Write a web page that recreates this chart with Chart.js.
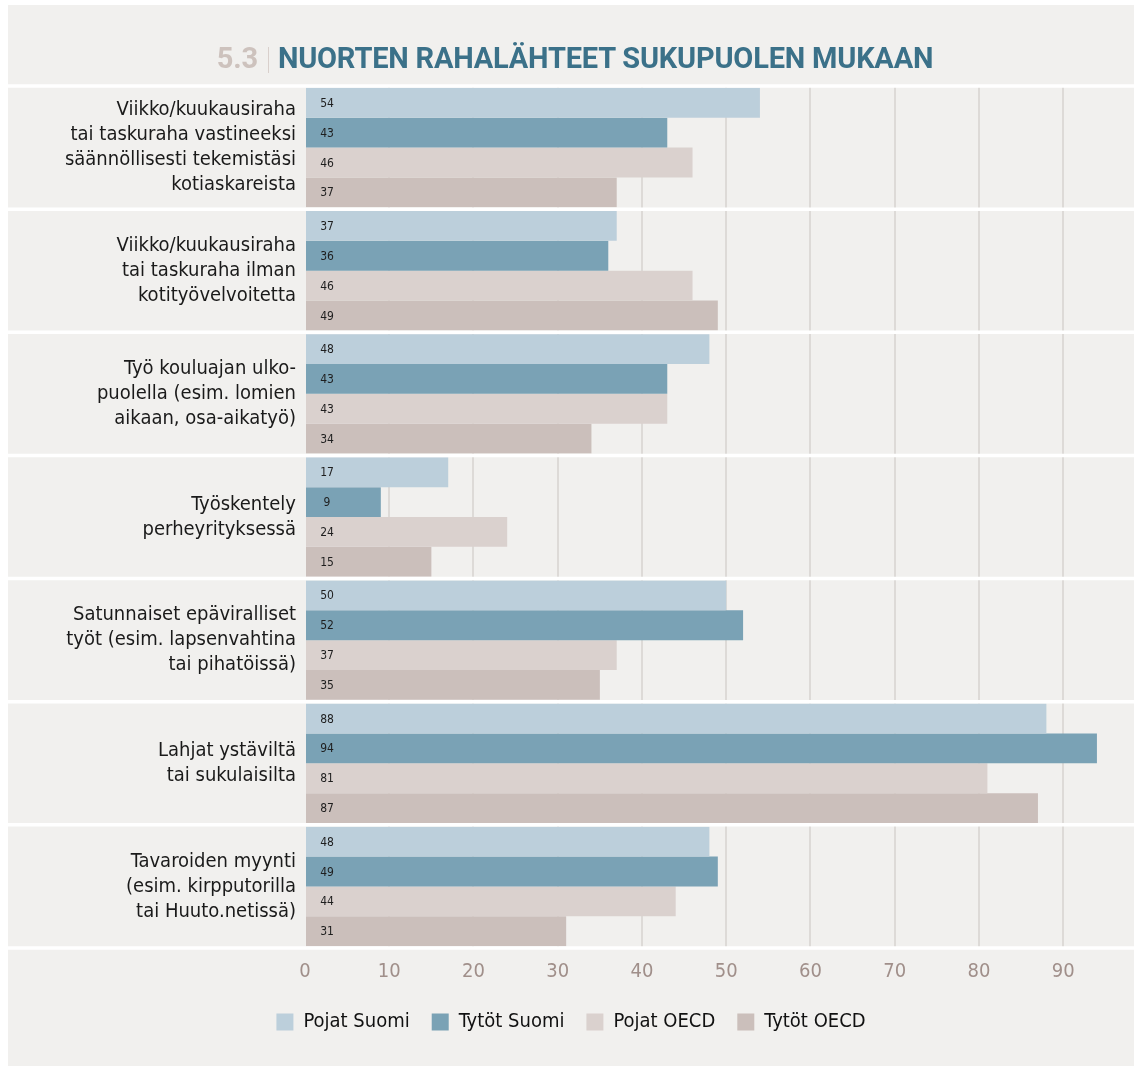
<!DOCTYPE html>
<html>
<head>
<meta charset="utf-8">
<script src="https://cdn.jsdelivr.net/npm/chart.js@4"></script>
<style>
	html, body { margin: 0; padding: 0; background: #ffffff; }
	#wrap { position: relative; width: 1134px; height: 1066px; }
	#title {
		position: absolute; left: 0; top: 43px; width: 1150px; text-align: center;
		font-family: Roboto, "Liberation Sans", sans-serif; font-weight: 700; font-size: 29px;
		line-height: 30px; color: #3b7189; white-space: nowrap; letter-spacing: -0.2px;
	}
	#title .num { color: #cdc2bd; }
	#title .bar { display: inline-block; width: 0; height: 26px; border-left: 1px solid #d9d0cc; margin: 0 9px 0 10px; vertical-align: -5px; }
</style>
</head>
<body>
<div id="wrap">
	<canvas id="myChart" width="1134" height="1066"></canvas>
	<div id="title"><span class="num">5.3</span><span class="bar"></span>NUORTEN RAHALÄHTEET SUKUPUOLEN MUKAAN</div>
</div>
<script>
var FONT = '"DejaVu Sans Condensed", "Liberation Sans Narrow", sans-serif';

// The data for our chart
var categories = [
	['Viikko/kuukausiraha', 'tai taskuraha vastineeksi', 'säännöllisesti tekemistäsi', 'kotiaskareista'],
	['Viikko/kuukausiraha', 'tai taskuraha ilman', 'kotityövelvoitetta'],
	['Työ kouluajan ulko-', 'puolella (esim. lomien', 'aikaan, osa-aikatyö)'],
	['Työskentely', 'perheyrityksessä'],
	['Satunnaiset epäviralliset', 'työt (esim. lapsenvahtina', 'tai pihatöissä)'],
	['Lahjat ystäviltä', 'tai sukulaisilta'],
	['Tavaroiden myynti', '(esim. kirpputorilla', 'tai Huuto.netissä)']
];
var seriesNames = ['Pojat Suomi', 'Tytöt Suomi', 'Pojat OECD', 'Tytöt OECD'];
var pojatSuomi = [54, 37, 48, 17, 50, 88, 48];
var tytotSuomi = [43, 36, 43, 9, 52, 94, 49];
var pojatOECD = [46, 46, 43, 24, 37, 81, 44];
var tytotOECD = [37, 49, 34, 15, 35, 87, 31];
var xTicks = [0, 10, 20, 30, 40, 50, 60, 70, 80, 90];

var colors = ['#bccfdb', '#7aa2b5', '#dad1ce', '#cbbfbb'];
var seriesValues = [pojatSuomi, tytotSuomi, pojatOECD, tytotOECD];

// panel background and white separators
var panelPlugin = {
	id: 'panel',
	beforeDraw: function (chart) {
		var c = chart.ctx;
		c.save();
		c.fillStyle = '#f1f0ee';
		c.fillRect(8, 5, chart.width - 8, chart.height - 5);
		c.restore();
	},
	afterDraw: function (chart) {
		var c = chart.ctx;
		var y = chart.scales.y;
		var step = y.getPixelForValue(1) - y.getPixelForValue(0);
		c.save();
		c.strokeStyle = '#ffffff';
		c.lineWidth = 3.5;
		for (var i = 0; i <= categories.length; i++) {
			var py = y.getPixelForValue(i) - step / 2;
			c.beginPath();
			c.moveTo(8, py);
			c.lineTo(chart.width, py);
			c.stroke();
		}
		c.restore();
	}
};

// small value labels at the start of each bar
var valuePlugin = {
	id: 'values',
	afterDatasetsDraw: function (chart) {
		var c = chart.ctx;
		c.save();
		c.font = '12px ' + FONT;
		c.fillStyle = '#1e1e1e';
		c.textAlign = 'center';
		c.textBaseline = 'middle';
		chart.data.datasets.forEach(function (ds, di) {
			chart.getDatasetMeta(di).data.forEach(function (bar, i) {
				c.fillText(String(ds.data[i]), bar.base + 21, bar.y + 1);
			});
		});
		c.restore();
	}
};

var ctx = document.getElementById('myChart').getContext('2d');
var chart = new Chart(ctx, {
	type: 'bar',
	data: {
		labels: categories,
		datasets: seriesNames.map(function (name, i) {
			return {
				label: name,
				data: seriesValues[i],
				backgroundColor: colors[i],
				borderWidth: 0,
				barPercentage: 1,
				categoryPercentage: 0.97
			};
		})
	},
	options: {
		indexAxis: 'y',
		responsive: false,
		animation: false,
		layout: { padding: { left: 8, top: 86, right: 0, bottom: 24 } },
		scales: {
			x: {
				min: 0,
				max: 98.4,
				z: 1,
				afterBuildTicks: function (scale) {
					scale.ticks = xTicks.map(function (v) { return { value: v }; });
				},
				afterFit: function (scale) { scale.height = 42; },
				border: { display: false },
				grid: {
					drawTicks: false,
					lineWidth: 2,
					color: function (c) {
						return c.tick && c.tick.value === 0 ? 'rgba(0,0,0,0)' : 'rgba(150,140,138,0.22)';
					}
				},
				ticks: {
					padding: 12,
					color: '#a08f8a',
					font: { family: FONT, size: 20 }
				}
			},
			y: {
				afterFit: function (scale) { scale.width = 297; },
				border: { display: false },
				grid: { display: false, drawTicks: false },
				ticks: {
					padding: 9,
					color: '#1a1a1a',
					font: { family: FONT, size: 20, lineHeight: 1.25 }
				}
			}
		},
		plugins: {
			title: { display: false },
			tooltip: { enabled: false },
			legend: {
				position: 'bottom',
				labels: {
					boxWidth: 17,
					boxHeight: 17,
					padding: 22,
					color: '#111111',
					font: { family: FONT, size: 20 }
				}
			}
		}
	},
	plugins: [panelPlugin, valuePlugin]
});
</script>
</body>
</html>
